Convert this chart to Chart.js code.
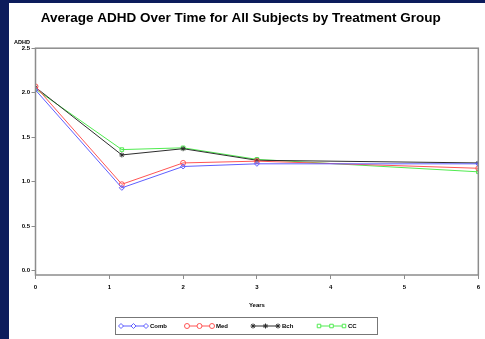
<!DOCTYPE html>
<html>
<head>
<meta charset="utf-8">
<script src="https://cdn.jsdelivr.net/npm/chart.js@4.4.0/dist/chart.umd.min.js"></script>
<style>
  html, body { margin: 0; padding: 0; background: rgb(12, 28, 92); }
  #wrap { position: relative; width: 485px; height: 339px; }
</style>
</head>
<body>
<div id="wrap"><canvas id="myChart"></canvas></div>
<script>
// years of follow-up
const years = [0, 1.17, 2, 3, 6];
const comb = [2.03, 0.93, 1.17, 1.20, 1.20];
const med  = [2.07, 0.97, 1.21, 1.23, 1.15];
const bch  = [2.06, 1.30, 1.37, 1.24, 1.21];
const cc   = [2.04, 1.36, 1.38, 1.25, 1.11];
const yTicks = [0, 0.5, 1, 1.5, 2, 2.5];
const xTicks = [0, 1, 2, 3, 4, 5, 6];

const groups = [
  {label: 'Comb', data: comb, color: 'rgb(95, 95, 255)',  style: 'rectRot', r: 2.5},
  {label: 'Med',  data: med,  color: 'rgb(255, 85, 85)',  style: 'circle',  r: 2.5},
  {label: 'Bch',  data: bch,  color: 'rgb(45, 45, 45)',   style: 'star',    r: 2.5},
  {label: 'CC',   data: cc,   color: 'rgb(80, 235, 80)',  style: 'rect',    r: 2.5}
];

const tinyFont = {family: 'Liberation Sans', size: 6, weight: 'bold'};

// white panel, plot frame, y label and the boxed legend
const sasLook = {
  id: 'sasLook',
  beforeDraw(chart) {
    const c = chart.ctx;
    c.save();
    c.fillStyle = '#ffffff';
    c.fillRect(9, 3, chart.width - 9, chart.height - 3);
    c.restore();
  },
  afterDraw(chart) {
    const c = chart.ctx;
    const a = chart.chartArea;
    c.save();
    c.strokeStyle = '#8c8c8c';
    c.lineWidth = 1.5;
    c.strokeRect(a.left, a.top, a.right - a.left, a.bottom - a.top);

    c.fillStyle = '#000';
    c.font = 'bold 5.5px "Liberation Sans"';
    c.textAlign = 'right';
    c.textBaseline = 'middle';
    c.fillText('ADHD', 30, 42);

    // legend
    const bx = 115, by = 317, bw = 262, bh = 17;
    c.strokeStyle = '#777';
    c.lineWidth = 1;
    c.strokeRect(bx + 0.5, by + 0.5, bw, bh);
    const cy = by + bh / 2 + 0.5;
    chart.data.datasets.forEach((ds, i) => {
      const x0 = bx + 6 + i * 66;
      c.strokeStyle = ds.borderColor;
      c.lineWidth = 1;
      c.beginPath();
      c.moveTo(x0, cy);
      c.lineTo(x0 + 25, cy);
      c.stroke();
      c.fillStyle = '#ffffff';
      [0, 12.5, 25].forEach(dx => {
        Chart.helpers.drawPoint(c, {pointStyle: ds.pointStyle, radius: 2.5, borderWidth: 1, rotation: 0}, x0 + dx, cy);
      });
      c.fillStyle = '#000';
      c.font = 'bold 6px "Liberation Sans"';
      c.textAlign = 'left';
      c.textBaseline = 'middle';
      c.fillText(ds.label, x0 + 29, cy);
    });
    c.restore();
  }
};

const ctx = document.getElementById('myChart').getContext('2d');

const myChart = new Chart(ctx, {
  type: 'scatter',
  data: {
    datasets: groups.map(g => ({
      label: g.label,
      data: years.map((x, i) => ({x: x, y: g.data[i]})),
      showLine: true,
      borderColor: g.color,
      backgroundColor: 'rgba(255,255,255,0)',
      borderWidth: 1,
      pointStyle: g.style,
      pointRadius: g.r,
      pointBorderWidth: 1,
      pointBorderColor: g.color,
      pointBackgroundColor: 'rgba(255,255,255,0)'
    }))
  },
  options: {
    responsive: true,
    maintainAspectRatio: false,
    animation: false,
    layout: {padding: {left: 0, right: 3.5, top: 0, bottom: 29}},
    plugins: {
      legend: {display: false},
      tooltip: {enabled: false},
      title: {
        display: true,
        text: 'Average ADHD Over Time for All Subjects by Treatment Group',
        color: '#000',
        font: {family: 'Liberation Sans', size: 13.5, weight: 'bold'},
        padding: {top: 10, bottom: 22}
      }
    },
    scales: {
      x: {
        type: 'linear',
        min: 0,
        max: 6,
        afterFit: s => { s.height = 35; },
        afterBuildTicks: s => { s.ticks = xTicks.map(v => ({value: v})); },
        grid: {display: true, drawOnChartArea: false, drawTicks: true, tickLength: 4, color: '#8c8c8c'},
        border: {display: false},
        ticks: {color: '#000', font: tinyFont, padding: 5, maxRotation: 0,
          callback: v => String(v)},
        title: {display: true, text: 'Years', color: '#000', font: tinyFont, padding: {top: 0, bottom: 1.5}}
      },
      y: {
        min: -0.05,
        max: 2.5,
        afterFit: s => { s.width = 35.5; },
        afterBuildTicks: s => { s.ticks = yTicks.map(v => ({value: v})); },
        grid: {display: true, drawOnChartArea: false, drawTicks: true, tickLength: 4, color: '#8c8c8c'},
        border: {display: false},
        ticks: {color: '#000', font: tinyFont, padding: 1.5,
          callback: v => Number(v).toFixed(1)}
      }
    }
  },
  plugins: [sasLook]
});
</script>
</body>
</html>
